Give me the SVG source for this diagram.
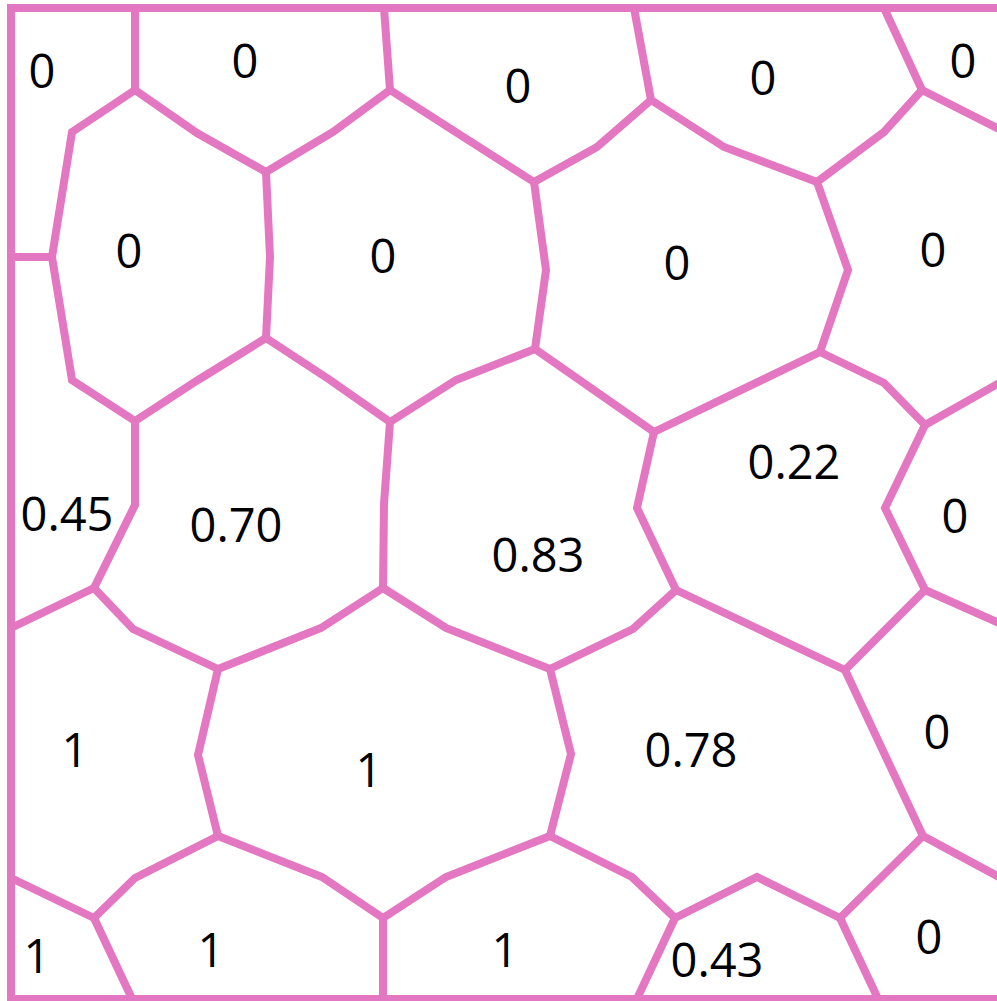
<svg xmlns="http://www.w3.org/2000/svg" width="997" height="1001" viewBox="0 0 997 1001">
<style>
.e{fill:none;stroke:#e377c2;stroke-width:8;stroke-linejoin:miter}
.t{font-family:"Open Sans","Noto Sans","DejaVu Sans",sans-serif;font-size:47px;fill:#000;text-anchor:middle}
</style>
<rect width="997" height="1001" fill="#fff"/>
<g id="connectors">
<rect class="e" x="11" y="8" width="1000" height="991"/>
<polyline class="e" points="135,8 135,90"/>
<polyline class="e" points="135,90 72,132 52,257"/>
<polyline class="e" points="11,257 52,257"/>
<polyline class="e" points="52,257 72,380 135,421"/>
<polyline class="e" points="135,90 197,133 266,172"/>
<polyline class="e" points="266,172 270,257 266,338"/>
<polyline class="e" points="266,172 333,132 390,90"/>
<polyline class="e" points="390,90 384,8"/>
<polyline class="e" points="390,90 534,182"/>
<polyline class="e" points="534,182 597,147 651,100"/>
<polyline class="e" points="651,100 634,8"/>
<polyline class="e" points="651,100 724,147 817,182"/>
<polyline class="e" points="817,182 884,132 922,90"/>
<polyline class="e" points="922,90 884,8"/>
<polyline class="e" points="922,90 1001,130"/>
<polyline class="e" points="817,182 848,270 820,352"/>
<polyline class="e" points="534,182 546,270 535,349"/>
<polyline class="e" points="535,349 456,380 390,422"/>
<polyline class="e" points="535,349 654,432"/>
<polyline class="e" points="654,432 820,352"/>
<polyline class="e" points="820,352 884,383 925,425"/>
<polyline class="e" points="925,425 1001,382"/>
<polyline class="e" points="925,425 885,508 925,590"/>
<polyline class="e" points="925,590 1001,624"/>
<polyline class="e" points="925,590 885,630 845,670"/>
<polyline class="e" points="654,432 637,508 676,590"/>
<polyline class="e" points="676,590 845,670"/>
<polyline class="e" points="676,590 633,629 550,669"/>
<polyline class="e" points="266,338 198,380 135,421"/>
<polyline class="e" points="266,338 330,380 390,422"/>
<polyline class="e" points="135,421 135,505 94,588"/>
<polyline class="e" points="94,588 11,628"/>
<polyline class="e" points="94,588 133,629 218,669"/>
<polyline class="e" points="390,422 384,504 383,588"/>
<polyline class="e" points="383,588 321,628 218,669"/>
<polyline class="e" points="383,588 446,628 550,669"/>
<polyline class="e" points="218,669 198,755 218,836"/>
<polyline class="e" points="218,836 135,878 94,918"/>
<polyline class="e" points="94,918 11,878"/>
<polyline class="e" points="94,918 134,1003"/>
<polyline class="e" points="218,836 322,877 383,918"/>
<polyline class="e" points="383,918 383,1003"/>
<polyline class="e" points="383,918 446,877 550,836"/>
<polyline class="e" points="550,669 571,754 550,836"/>
<polyline class="e" points="550,836 632,877 675,918"/>
<polyline class="e" points="675,918 757,877 840,918"/>
<polyline class="e" points="675,918 635,1003"/>
<polyline class="e" points="840,918 880,1003"/>
<polyline class="e" points="840,918 923,836"/>
<polyline class="e" points="923,836 1001,878"/>
<polyline class="e" points="923,836 845,670"/>
</g>
<g id="c1"><text class="t" x="42" y="88">0</text></g>
<g id="c2"><text class="t" x="245" y="78">0</text></g>
<g id="c3"><text class="t" x="518" y="103">0</text></g>
<g id="c4"><text class="t" x="763" y="95">0</text></g>
<g id="c5"><text class="t" x="963" y="78">0</text></g>
<g id="c6"><text class="t" x="129" y="268">0</text></g>
<g id="c7"><text class="t" x="383" y="273">0</text></g>
<g id="c8"><text class="t" x="677" y="280">0</text></g>
<g id="c9"><text class="t" x="933" y="267">0</text></g>
<g id="c10"><text class="t" x="67" y="531">0.45</text></g>
<g id="c11"><text class="t" x="236" y="542">0.70</text></g>
<g id="c12"><text class="t" x="538" y="572">0.83</text></g>
<g id="c13"><text class="t" x="794" y="479">0.22</text></g>
<g id="c14"><text class="t" x="955" y="533">0</text></g>
<g id="c15"><text class="t" x="75" y="767">1</text></g>
<g id="c16"><text class="t" x="369" y="787">1</text></g>
<g id="c17"><text class="t" x="691" y="767">0.78</text></g>
<g id="c18"><text class="t" x="937" y="749">0</text></g>
<g id="c19"><text class="t" x="37" y="973">1</text></g>
<g id="c20"><text class="t" x="211" y="967">1</text></g>
<g id="c21"><text class="t" x="505" y="967">1</text></g>
<g id="c22"><text class="t" x="717" y="977">0.43</text></g>
<g id="c23"><text class="t" x="929" y="954">0</text></g>
</svg>
